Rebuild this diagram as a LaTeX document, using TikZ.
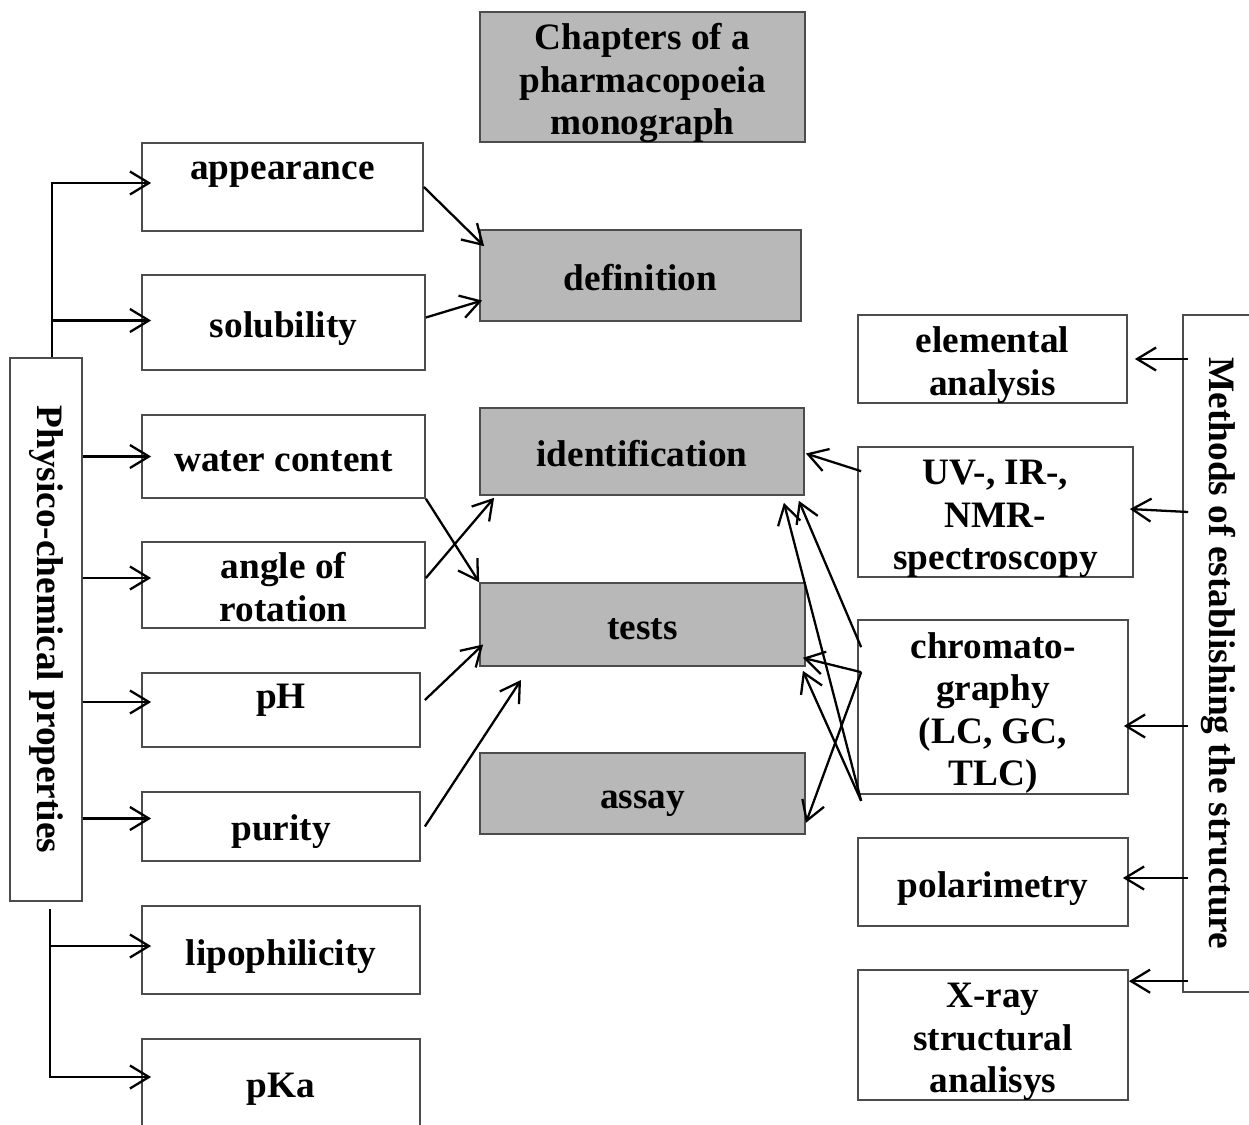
\documentclass[tikz,border=0pt]{standalone}
\usepackage{fontspec}
\setmainfont{Liberation Serif}
\usetikzlibrary{calc,arrows.meta}

% text of a box: lines centred, baselines a little below the box centre
\newcommand\bx[2][4.6pt]{\raisebox{-#1}[0pt][0pt]{\begin{tabular}{@{}c@{}}#2\end{tabular}}}

\tikzset{
  box/.style={draw=black!70, line width=0.45pt, fill=white, inner sep=0pt,
    font=\bfseries\fontsize{10.6}{12.1}\selectfont},
  chapbox/.style={box, fill=black!28},
  arr/.style={-{Straight Barb[length=1.9mm,width=2.3mm]}, line width=0.65pt, black},
}

\begin{document}
\begin{tikzpicture}[x=0.01cm, y=-0.01cm]
		%%%%% FRAME %%%%%
		\path[use as bounding box, fill=white] (0,0) rectangle (1249,1124);
		
		%%%%% CHAPTERS %%%%%
		\node[chapbox, minimum width=3.25cm, minimum height=1.30cm] (chap) at (642.5,77) {\bx{Chapters of a\\pharmacopoeia\\monograph}};
		\node[chapbox, minimum width=3.21cm, minimum height=0.91cm] (def) at (640.5,275.5) {\bx{definition}};
		\node[chapbox, minimum width=3.24cm, minimum height=0.87cm] (ident) at (642,451.5) {\bx{identification}};
		\node[chapbox, minimum width=3.25cm, minimum height=0.83cm] (tests) at (642.5,624.5) {\bx{tests}};
		\node[chapbox, minimum width=3.25cm, minimum height=0.81cm] (assay) at (642.5,793.5) {\bx{assay}};
		
		%%%%% LEFT %%%%%
		\node[box, minimum width=0.72cm, minimum height=5.43cm] (phys) at (46,629.5) {\rotatebox{-90}{Physico-chemical properties}};
		\node[box, minimum width=2.81cm, minimum height=0.88cm] (app) at (282.5,187) {\bx[-1.8pt]{appearance}};
		\node[box, minimum width=2.83cm, minimum height=0.95cm] (sol) at (283.5,322.5) {\bx{solubility}};
		\node[box, minimum width=2.83cm, minimum height=0.83cm] (wat) at (283.5,456.5) {\bx{water content}};
		\node[box, minimum width=2.83cm, minimum height=0.86cm] (ang) at (283.5,585) {\bx{angle of\\rotation}};
		\node[box, minimum width=2.78cm, minimum height=0.74cm] (ph) at (281,710) {\bx[0pt]{pH}};
		\node[box, minimum width=2.78cm, minimum height=0.69cm] (pur) at (281,826.5) {\bx[4.2pt]{purity}};
		\node[box, minimum width=2.78cm, minimum height=0.88cm] (lip) at (281,950) {\bx{lipophilicity}};
		\node[box, minimum width=2.78cm, minimum height=0.92cm] (pka) at (281,1085) {\bx[3.8pt]{pKa}};
		
		%%%%% RIGHT %%%%%
		\node[box, minimum width=0.70cm, minimum height=6.77cm] (meth) at (1218,653.5) {\rotatebox{-90}{Methods of establishing the structure}};
		\node[box, minimum width=2.69cm, minimum height=0.88cm] (elem) at (992.5,359) {\bx{elemental\\analysis}};
		\node[box, minimum width=2.75cm, minimum height=1.30cm] (uv) at (995.5,512) {\bx{UV-, IR-,\\NMR-\\spectroscopy}};
		\node[box, minimum width=2.70cm, minimum height=1.74cm] (chrom) at (993,707) {\bx{chromato-\\graphy\\(LC, GC,\\TLC)}};
		\node[box, minimum width=2.70cm, minimum height=0.88cm] (pol) at (993,882) {\bx{polarimetry}};
		\node[box, minimum width=2.70cm, minimum height=1.30cm] (xray) at (993,1035) {\bx{X-ray\\structural\\analisys}};
		
		%%%%% COORDINATES %%%%%
		\coordinate (ptop) at (52,357);
		\coordinate (pbot) at (50,909);
		\coordinate (mL) at ($(meth.west)+(6,0)$);
		\coordinate (purEnd) at (521,680);
		\coordinate (chA) at ($(chrom.north west)+(4,28)$);
		\coordinate (chB) at ($(chrom.north west)+(4,53)$);
		\coordinate (chC) at ($(chrom.south west)+(4,6)$);
		
		%%%%% PROPERTIES -> BOXES %%%%%
		\draw[arr, shorten >=-1mm] (ptop) |- ($(app.west)+(0,-4)$);
		\draw[arr, shorten >=-1mm] (ptop) |- ($(sol.west)+(0,-2)$);
		\draw[arr, shorten >=-1mm] (phys.east |- wat.west) -- (wat.west);
		\draw[arr, shorten >=-1mm] ($(phys.east |- ang.west)+(0,-7)$) -- ($(ang.west)+(0,-7)$);
		\draw[arr, shorten >=-1mm] ($(phys.east |- ph.west)+(0,-8)$) -- ($(ph.west)+(0,-8)$);
		\draw[arr, shorten >=-1mm] ($(phys.east |- pur.west)+(0,-8)$) -- ($(pur.west)+(0,-8)$);
		\draw[arr, shorten >=-1mm] (pbot) |- ($(lip.west)+(0,-4)$);
		\draw[arr, shorten >=-1mm] (pbot) |- ($(pka.west)+(0,-8)$);
		
		%%%%% BOXES -> CHAPTERS %%%%%
		\draw[arr] (app.east) -- ($(def.north west)+(5,17)$);
		\draw[arr] ($(sol.east)+(0,-5)$) -- ($(def.west)+(3,25)$);
		\draw[arr] (wat.south east) -- (tests.north west);
		\draw[arr] ($(ang.east)+(0,-7)$) -- ($(ident.south west)+(15,2)$);
		\draw[arr] ($(ph.east)+(4,-10)$) -- ($(tests.west)+(4,20)$);
		\draw[arr] ($(pur.east)+(4,0)$) -- (purEnd);
		
		%%%%% METHODS -> CHAPTERS %%%%%
		\draw[arr] ($(uv.north west)+(4,25)$) -- ($(ident.east)+(1,2)$);
		\draw[arr] (chA) -- ($(ident.south east)+(-6,5)$);
		\draw[arr] (chC) -- ($(ident.south east)+(-21,7)$);
		\draw[arr] (chB) -- ($(tests.south east)+(-3,-9)$);
		\draw[arr] (chC) -- ($(tests.south east)+(-3,4)$);
		\draw[arr] (chB) -- ($(assay.south east)+(0,-12)$);
		
		%%%%% METHODS -> BOXES %%%%%
		\draw[arr] (mL |- elem.east) -- ($(elem.east)+(7,0)$);
		\draw[arr] (mL |- uv.east) -- ($(uv.east)+(-4,-3)$);
		\draw[arr] ($(mL |- chrom.east)+(0,19)$) -- ($(chrom.east)+(-5,19)$);
		\draw[arr] ($(mL |- pol.east)+(0,-4)$) -- ($(pol.east)+(-6,-4)$);
		\draw[arr] ($(mL |- xray.north)+(0,12)$) -- ($(xray.north east)+(0,12)$);
	\end{tikzpicture}
\end{document}
